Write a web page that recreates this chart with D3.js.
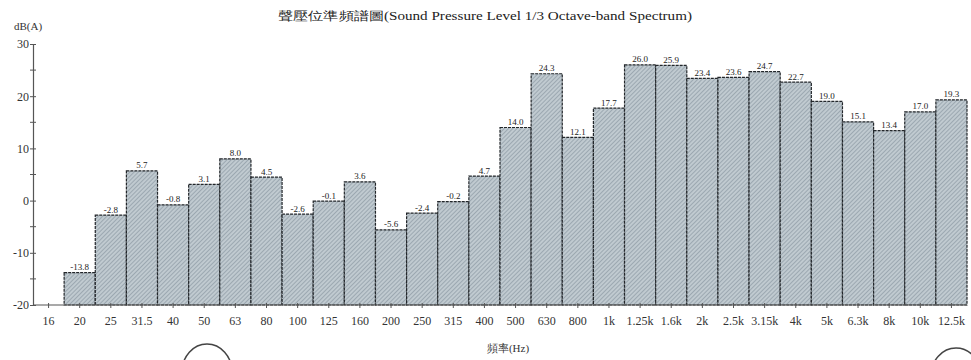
<!DOCTYPE html>
<html><head><meta charset="utf-8">
<script src="https://cdn.jsdelivr.net/npm/d3@7"></script>
<style>body{margin:0;background:#fff}svg{display:block}</style>
</head><body>
<svg id="c" width="971" height="360"></svg>
<script>
const categories = ["16","20","25","31.5","40","50","63","80","100","125","160","200","250","315","400","500","630","800","1k","1.25k","1.6k","2k","2.5k","3.15k","4k","5k","6.3k","8k","10k","12.5k"];
const values = [null,-13.8,-2.8,5.7,-0.8,3.1,8.0,4.5,-2.6,-0.1,3.6,-5.6,-2.4,-0.2,4.7,14.0,24.3,12.1,17.7,26.0,25.9,23.4,23.6,24.7,22.7,19.0,15.1,13.4,17.0,19.3];
const yTicks = [-20,-10,0,10,20,30];
const minorTicks = [-15,-5,5,15,25];
const titleText = "聲壓位準頻譜圖(Sound Pressure Level 1/3 Octave-band Spectrum)";
const xTitle = "頻率(Hz)";
const yTitle = "dB(A)";

(function(){
const svg = d3.select("#c");
const serif = "'Liberation Serif','DejaVu Serif',serif";
const defs = svg.append("defs");
const pat = defs.append("pattern").attr("id","hatch").attr("patternUnits","userSpaceOnUse")
  .attr("width",3).attr("height",3).attr("patternTransform","rotate(45)");
pat.append("rect").attr("width",3).attr("height",3).attr("fill","#c0cad0");
pat.append("line").attr("x1",0).attr("y1",0).attr("x2",0).attr("y2",3).attr("stroke","#84919c").attr("stroke-width",1.2);

const mLeft = 33, mRight = 967, mTop = 44, mBottom = 305;
const x = d3.scaleBand().domain(categories).range([mLeft,mRight]).padding(0);
const y = d3.scaleLinear().domain([-20,30]).range([mBottom,mTop]);

svg.append("text").attr("x",278).attr("y",20)
  .attr("textLength",414).attr("lengthAdjust","spacingAndGlyphs")
  .attr("font-family",serif).attr("font-size",12).attr("fill","#222").text(titleText);
svg.append("text").attr("x",14).attr("y",30).attr("font-family",serif).attr("font-size",11).attr("fill","#333").text(yTitle);

const data = categories.map((c,i)=>({c,v:values[i]})).filter(d=>d.v!==null);
svg.append("g").selectAll("rect").data(data).join("rect")
  .attr("x",d=>x(d.c)).attr("width",x.bandwidth())
  .attr("y",d=>y(d.v)).attr("height",d=>y(-20)-y(d.v))
  .attr("fill","url(#hatch)").attr("stroke","#22262a").attr("stroke-width",1.2)
  .attr("stroke-dasharray","3,1");
svg.append("g").selectAll("text").data(data).join("text")
  .attr("x",d=>x(d.c)+x.bandwidth()/2).attr("y",d=>y(d.v)-2.5)
  .attr("text-anchor","middle").attr("font-family",serif).attr("font-size",9).attr("fill","#222")
  .text(d=>d.v.toFixed(1));

const yAxis = d3.axisLeft(y).tickValues(yTicks).tickSize(3).tickFormat(d=>d);
const gy = svg.append("g").attr("transform",`translate(${mLeft},0)`).call(yAxis);
gy.select(".domain").attr("stroke","#555").attr("stroke-width",1.2);
gy.selectAll(".tick line").attr("x2",3).attr("x1",-3).attr("stroke","#555");
gy.selectAll(".tick text").attr("font-family",serif).attr("font-size",12).attr("fill","#333").attr("x",-4);
svg.append("g").selectAll("line").data(minorTicks).join("line")
  .attr("x1",mLeft-3).attr("x2",mLeft+3).attr("y1",d=>y(d)).attr("y2",d=>y(d)).attr("stroke","#555");

const xAxis = d3.axisBottom(x).tickSize(3);
const gx = svg.append("g").attr("transform",`translate(0,${mBottom})`).call(xAxis);
gx.select(".domain").attr("stroke","#555").attr("stroke-width",1.2).attr("d",`M${mLeft},0H${mRight}`);
gx.selectAll(".tick line").attr("stroke","#555").attr("y1",-2);
gx.selectAll(".tick text").attr("font-family",serif).attr("font-size",12).attr("fill","#333").attr("dy","1.2em");

svg.append("text").attr("x",508).attr("y",352).attr("text-anchor","middle")
  .attr("font-family",serif).attr("font-size",11).attr("fill","#333").text(xTitle);

svg.append("ellipse").attr("cx",207).attr("cy",372).attr("rx",25).attr("ry",28)
  .attr("fill","none").attr("stroke","#444").attr("stroke-width",1.5);
svg.append("ellipse").attr("cx",956).attr("cy",376).attr("rx",25).attr("ry",28)
  .attr("fill","none").attr("stroke","#444").attr("stroke-width",1.5);
})();
</script>
</body></html>
